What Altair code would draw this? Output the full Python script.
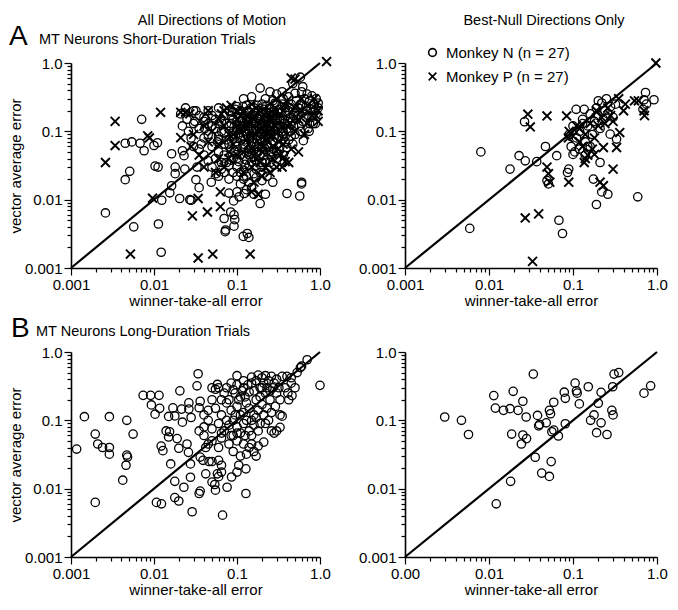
import altair as alt
import pandas as pd

FONT = "Liberation Sans"
N_LABEL = "Monkey N (n = 27)"
P_LABEL = "Monkey P (n = 27)"
XPATH = "M-1,-1L1,1M-1,1L1,-1"

# ---------------- Panel A, all directions (short-duration) ----------------
a_all_N = [
    (0.0026, 0.0064), (0.0057, 0.004), (0.0045, 0.0196), (0.0051, 0.026), (0.0045, 0.067),
    (0.0054, 0.07), (0.0071, 0.15), (0.0068, 0.067), (0.0076, 0.052), (0.010, 0.062),
    (0.011, 0.068), (0.0103, 0.031), (0.0112, 0.03), (0.0113, 0.0044), (0.0122, 0.0017),
    (0.0124, 0.0098), (0.0155, 0.0126), (0.0163, 0.016), (0.0163, 0.047), (0.018, 0.03),
    (0.018, 0.024), (0.0235, 0.028), (0.0204, 0.0104), (0.027, 0.01), (0.022, 0.052),
    (0.023, 0.044), (0.022, 0.12), (0.021, 0.18), (0.024, 0.22), (0.028, 0.0098),
    (0.032, 0.0196), (0.035, 0.015), (0.033, 0.03), (0.032, 0.2), (0.031, 0.14),
    (0.037, 0.065), (0.041, 0.11), (0.042, 0.15), (0.049, 0.018), (0.056, 0.024),
    (0.070, 0.0053), (0.073, 0.0036), (0.084, 0.0066), (0.092, 0.006), (0.094, 0.0051),
    (0.092, 0.0041), (0.072, 0.0034), (0.119, 0.0029), (0.133, 0.0032), (0.139, 0.0028),
    (0.091, 0.0096), (0.106, 0.011), (0.122, 0.0123), (0.19, 0.0088), (0.40, 0.0123),
    (0.6, 0.018), (0.6, 0.017), (0.57, 0.0113), (0.63, 0.073), (0.55, 0.17),
    (0.72, 0.11), (0.19, 0.43), (0.58, 0.62), (0.83, 0.13), (0.74, 0.1),
    # dense cluster
    (0.25, 0.38), (0.3, 0.35), (0.35, 0.38), (0.42, 0.32), (0.5, 0.36), (0.6, 0.38),
    (0.7, 0.35), (0.8, 0.33), (0.9, 0.3), (0.47, 0.5), (0.62, 0.45), (0.15, 0.32),
    (0.12, 0.3), (0.22, 0.3), (0.27, 0.28), (0.36, 0.3), (0.75, 0.28), (0.95, 0.26),
    (0.85, 0.25), (0.03, 0.2), (0.045, 0.2), (0.06, 0.22), (0.08, 0.2), (0.1, 0.23),
    (0.13, 0.24), (0.16, 0.22), (0.2, 0.25), (0.25, 0.22), (0.3, 0.24), (0.38, 0.22),
    (0.45, 0.25), (0.55, 0.22), (0.7, 0.2), (0.85, 0.2), (0.95, 0.22), (0.11, 0.2),
    (0.14, 0.19), (0.18, 0.2), (0.23, 0.19), (0.28, 0.2), (0.34, 0.19), (0.42, 0.2),
    (0.5, 0.19), (0.62, 0.19), (0.78, 0.21), (0.9, 0.18), (0.025, 0.15), (0.04, 0.16),
    (0.055, 0.15), (0.07, 0.17), (0.09, 0.15), (0.11, 0.16), (0.13, 0.15), (0.16, 0.17),
    (0.19, 0.15), (0.22, 0.16), (0.26, 0.15), (0.31, 0.16), (0.37, 0.15), (0.44, 0.16),
    (0.52, 0.15), (0.62, 0.14), (0.8, 0.16), (0.88, 0.13), (0.75, 0.13), (0.68, 0.16),
    (0.035, 0.11), (0.05, 0.12), (0.065, 0.1), (0.08, 0.12), (0.1, 0.11),
    (0.12, 0.12), (0.14, 0.1), (0.17, 0.12), (0.2, 0.11), (0.24, 0.12), (0.28, 0.1),
    (0.33, 0.12), (0.4, 0.11), (0.48, 0.12), (0.58, 0.1), (0.09, 0.1),
    (0.15, 0.13), (0.21, 0.13), (0.3, 0.13), (0.36, 0.1), (0.44, 0.1), (0.04, 0.08),
    (0.06, 0.085), (0.075, 0.075), (0.09, 0.085), (0.11, 0.08), (0.13, 0.09), (0.155, 0.078),
    (0.18, 0.085), (0.21, 0.08), (0.25, 0.09), (0.3, 0.08), (0.35, 0.085), (0.42, 0.075),
    (0.5, 0.09), (0.045, 0.09), (0.1, 0.07), (0.2, 0.07), (0.27, 0.072), (0.38, 0.07),
    (0.03, 0.06), (0.05, 0.06), (0.07, 0.065), (0.085, 0.055), (0.1, 0.06), (0.12, 0.065),
    (0.14, 0.055), (0.17, 0.06), (0.2, 0.058), (0.23, 0.065), (0.28, 0.055), (0.33, 0.06),
    (0.4, 0.058), (0.47, 0.065), (0.035, 0.055), (0.06, 0.05), (0.15, 0.05), (0.25, 0.05),
    (0.04, 0.045), (0.055, 0.04), (0.07, 0.045), (0.09, 0.04), (0.11, 0.045), (0.13, 0.038),
    (0.16, 0.042), (0.19, 0.045), (0.22, 0.038), (0.26, 0.042), (0.3, 0.04), (0.36, 0.045),
    (0.2, 0.035), (0.075, 0.035), (0.05, 0.03), (0.065, 0.028), (0.08, 0.032), (0.1, 0.03),
    (0.12, 0.027), (0.14, 0.032), (0.17, 0.028), (0.2, 0.03), (0.24, 0.027), (0.28, 0.032),
    (0.09, 0.025), (0.06, 0.022), (0.08, 0.02), (0.1, 0.022), (0.12, 0.02), (0.14, 0.018),
    (0.17, 0.021), (0.2, 0.019), (0.23, 0.022), (0.27, 0.018), (0.11, 0.017), (0.15, 0.015),
    (0.1, 0.013), (0.13, 0.014), (0.16, 0.012), (0.22, 0.012), (0.08, 0.0125),
    (0.085, 0.17), (0.095, 0.21), (0.105, 0.18), (0.115, 0.14), (0.125, 0.17), (0.135, 0.2),
    (0.145, 0.16), (0.155, 0.14), (0.165, 0.19), (0.175, 0.16), (0.185, 0.13), (0.195, 0.18),
    (0.21, 0.21), (0.23, 0.14), (0.245, 0.17), (0.26, 0.19), (0.29, 0.15), (0.32, 0.21),
    (0.34, 0.14), (0.4, 0.17), (0.46, 0.14), (0.53, 0.17), (0.085, 0.13), (0.095, 0.07),
    (0.105, 0.095), (0.115, 0.11), (0.125, 0.075), (0.135, 0.12), (0.145, 0.085), (0.165, 0.1),
    (0.175, 0.075), (0.185, 0.11), (0.195, 0.095), (0.215, 0.1), (0.225, 0.085), (0.235, 0.11),
    (0.26, 0.1), (0.29, 0.09), (0.31, 0.11), (0.34, 0.095), (0.38, 0.085), (0.45, 0.085),
    (0.055, 0.11), (0.065, 0.14), (0.075, 0.13), (0.045, 0.13), (0.06, 0.075), (0.07, 0.095),
    (0.08, 0.065), (0.095, 0.05), (0.115, 0.055), (0.13, 0.048), (0.16, 0.052), (0.18, 0.05),
    (0.21, 0.045), (0.24, 0.058), (0.3, 0.05), (0.065, 0.035), (0.085, 0.038), (0.105, 0.036),
    (0.125, 0.033), (0.15, 0.036), (0.17, 0.038), (0.25, 0.035), (0.11, 0.025), (0.13, 0.022),
    (0.16, 0.024), (0.19, 0.025), (0.07, 0.025), (0.045, 0.037), (0.058, 0.07), (0.028, 0.08),
    (0.026, 0.1), (0.03, 0.13), (0.04, 0.14), (0.035, 0.17), (0.05, 0.17), (0.06, 0.13),
    (0.088, 0.19), (0.098, 0.14), (0.108, 0.12), (0.118, 0.23), (0.128, 0.1), (0.138, 0.14),
    (0.148, 0.22), (0.158, 0.11), (0.168, 0.135), (0.178, 0.24), (0.188, 0.17), (0.198, 0.12),
    (0.208, 0.19), (0.218, 0.14), (0.228, 0.24), (0.238, 0.09), (0.248, 0.13), (0.268, 0.17),
    (0.278, 0.12), (0.288, 0.26), (0.31, 0.19), (0.33, 0.15), (0.35, 0.25), (0.37, 0.13),
    (0.39, 0.19), (0.41, 0.14), (0.43, 0.22), (0.48, 0.17), (0.52, 0.28), (0.56, 0.12),
    (0.58, 0.25), (0.65, 0.3), (0.68, 0.23), (0.72, 0.17), (0.1, 0.04), (0.14, 0.045),
    (0.18, 0.06), (0.22, 0.055), (0.26, 0.065), (0.32, 0.085), (0.12, 0.085), (0.16, 0.07),
    (0.2, 0.09), (0.24, 0.08),
]
a_all_P = [
    (1.2, 1.05), (0.0034, 0.14), (0.0026, 0.035), (0.0034, 0.062), (0.0084, 0.086),
    (0.0088, 0.08), (0.012, 0.19), (0.0096, 0.0105), (0.0052, 0.0016), (0.034, 0.0014),
    (0.051, 0.0016), (0.144, 0.0016), (0.029, 0.0058), (0.044, 0.0066), (0.034, 0.0104),
    (0.063, 0.0079), (0.063, 0.013), (0.021, 0.081), (0.021, 0.19), (0.024, 0.19),
    (0.027, 0.18), (0.07, 0.2), (0.075, 0.22), (0.15, 0.013), (0.18, 0.012),
    (0.37, 0.042), (0.38, 0.036), (0.45, 0.6), (0.5, 0.58), (0.9, 0.17), (0.95, 0.14),
    # cluster
    (0.045, 0.2), (0.065, 0.18), (0.085, 0.24), (0.12, 0.2), (0.15, 0.25), (0.3, 0.3),
    (0.4, 0.28), (0.85, 0.3), (0.9, 0.25), (0.95, 0.2), (0.8, 0.17), (0.05, 0.1),
    (0.07, 0.12), (0.09, 0.09), (0.13, 0.11), (0.18, 0.1), (0.25, 0.14), (0.35, 0.12),
    (0.5, 0.1), (0.06, 0.065), (0.08, 0.05), (0.1, 0.045), (0.14, 0.065), (0.2, 0.05),
    (0.27, 0.06), (0.33, 0.045), (0.42, 0.035), (0.3, 0.03), (0.25, 0.025), (0.2, 0.022),
    (0.16, 0.018), (0.12, 0.025), (0.07, 0.03), (0.06, 0.04), (0.055, 0.025), (0.04, 0.03),
    (0.035, 0.045), (0.028, 0.06), (0.1, 0.15), (0.2, 0.16), (0.28, 0.18), (0.6, 0.3),
    (0.7, 0.24), (0.65, 0.09), (0.55, 0.05), (0.45, 0.055), (0.15, 0.03),
    (0.1, 0.2), (0.13, 0.17), (0.16, 0.15), (0.22, 0.13), (0.26, 0.11), (0.11, 0.1),
    (0.15, 0.085), (0.19, 0.065), (0.23, 0.075), (0.09, 0.065), (0.12, 0.05), (0.17, 0.04),
    (0.22, 0.03), (0.08, 0.04), (0.04, 0.12), (0.03, 0.09), (0.06, 0.15), (0.045, 0.07),
    (0.32, 0.07), (0.4, 0.12), (0.55, 0.15), (0.7, 0.13), (0.6, 0.2), (0.27, 0.04),
    (0.35, 0.03),
    (0.11, 0.17), (0.14, 0.13), (0.17, 0.22), (0.21, 0.1), (0.24, 0.18), (0.29, 0.12),
    (0.33, 0.18), (0.37, 0.24), (0.44, 0.13), (0.5, 0.22), (0.13, 0.075), (0.17, 0.09),
    (0.21, 0.06), (0.25, 0.085), (0.31, 0.055), (0.36, 0.065), (0.1, 0.12), (0.08, 0.09),
    (0.19, 0.035), (0.15, 0.055),
]

# ---------------- Panel A, best-null directions (short-duration) ----------------
a_bn_N = [
    (0.0059, 0.0038), (0.008, 0.05), (0.0178, 0.028), (0.0228, 0.044), (0.027, 0.037),
    (0.037, 0.036), (0.0265, 0.138), (0.047, 0.06), (0.049, 0.019), (0.051, 0.017),
    (0.064, 0.044), (0.068, 0.005), (0.075, 0.0032), (0.086, 0.025), (0.089, 0.028),
    (0.1, 0.046), (0.109, 0.21), (0.136, 0.21), (0.175, 0.02), (0.19, 0.0085),
    (0.21, 0.035), (0.22, 0.013), (0.26, 0.012), (0.277, 0.091), (0.33, 0.077),
    (0.59, 0.011), (0.73, 0.37), (0.70, 0.29), (0.92, 0.29), (0.68, 0.21), (0.75, 0.25),
    (0.1, 0.12), (0.11, 0.08), (0.12, 0.1), (0.13, 0.15), (0.14, 0.07), (0.15, 0.12),
    (0.16, 0.18), (0.17, 0.09), (0.18, 0.14), (0.19, 0.22), (0.2, 0.17), (0.21, 0.11),
    (0.22, 0.26), (0.23, 0.15), (0.24, 0.2), (0.25, 0.3), (0.26, 0.18), (0.28, 0.23),
    (0.3, 0.16), (0.32, 0.25), (0.12, 0.055), (0.14, 0.045), (0.16, 0.06), (0.095, 0.06),
    (0.13, 0.13), (0.09, 0.09), (0.105, 0.05), (0.2, 0.28), (0.15, 0.06),
]
a_bn_P = [
    (0.029, 0.178), (0.031, 0.116), (0.049, 0.168), (0.084, 0.168), (0.049, 0.03),
    (0.051, 0.024), (0.053, 0.018), (0.089, 0.018), (0.027, 0.0054), (0.039, 0.0062),
    (0.033, 0.00125), (0.21, 0.018), (0.23, 0.016), (0.3, 0.028), (0.33, 0.058),
    (0.23, 0.058), (0.36, 0.096), (0.97, 1.0), (0.71, 0.17), (0.54, 0.28),
    (0.088, 0.08), (0.136, 0.035), (0.18, 0.046),
    (0.09, 0.1), (0.1, 0.085), (0.11, 0.12), (0.12, 0.07), (0.13, 0.06), (0.14, 0.09),
    (0.15, 0.045), (0.16, 0.13), (0.17, 0.055), (0.18, 0.08), (0.19, 0.2), (0.2, 0.12),
    (0.22, 0.16), (0.24, 0.13), (0.26, 0.22), (0.28, 0.17), (0.3, 0.14), (0.35, 0.3),
    (0.4, 0.2), (0.42, 0.25), (0.14, 0.04), (0.12, 0.11), (0.6, 0.28), (0.7, 0.2),
]

# ---------------- Panel B, all directions (long-duration) ----------------
b_all_N = [
    (0.00117, 0.038), (0.00145, 0.113), (0.00196, 0.063), (0.0021, 0.045), (0.0024, 0.04),
    (0.00196, 0.0063), (0.0029, 0.04), (0.0029, 0.032), (0.0029, 0.113), (0.0047, 0.1),
    (0.0047, 0.031), (0.0048, 0.029), (0.0046, 0.022), (0.0042, 0.0133), (0.0056, 0.063),
    (0.0074, 0.232), (0.0091, 0.232), (0.0115, 0.232), (0.0093, 0.168), (0.0117, 0.15),
    (0.0103, 0.123), (0.0107, 0.0063), (0.0123, 0.006), (0.0122, 0.042), (0.0128, 0.036),
    (0.014, 0.07), (0.0154, 0.068), (0.015, 0.057), (0.015, 0.114), (0.0169, 0.152),
    (0.0178, 0.116), (0.019, 0.054), (0.0159, 0.023), (0.0178, 0.0128), (0.0178, 0.0074),
    (0.0199, 0.0066), (0.0205, 0.27), (0.0215, 0.146), (0.022, 0.094), (0.0199, 0.039),
    (0.0229, 0.0105), (0.025, 0.045), (0.026, 0.034), (0.0263, 0.18), (0.0263, 0.146),
    (0.028, 0.11), (0.0275, 0.023), (0.0275, 0.0147), (0.0288, 0.0046), (0.034, 0.48),
    (0.033, 0.32), (0.035, 0.153), (0.036, 0.19), (0.036, 0.029), (0.039, 0.026),
    (0.035, 0.0085), (0.036, 0.0092), (0.042, 0.0165), (0.042, 0.04), (0.046, 0.025),
    (0.05, 0.025), (0.05, 0.0125), (0.054, 0.0115), (0.055, 0.0095), (0.058, 0.0165),
    (0.06, 0.015), (0.06, 0.026), (0.065, 0.022), (0.065, 0.0175), (0.067, 0.0041),
    (0.076, 0.0105), (0.086, 0.0148), (0.1, 0.0175), (0.105, 0.022), (0.128, 0.0195),
    (0.128, 0.0085), (0.058, 0.335), (0.055, 0.285),
    (0.06, 0.3), (0.07, 0.25), (0.08, 0.2), (0.09, 0.28), (0.1, 0.33), (0.11, 0.22),
    (0.12, 0.3), (0.13, 0.18), (0.14, 0.26), (0.15, 0.35), (0.17, 0.2), (0.19, 0.3),
    (0.2, 0.42), (0.22, 0.25), (0.24, 0.38), (0.27, 0.3), (0.3, 0.25), (0.33, 0.2),
    (0.38, 0.3), (0.05, 0.2), (0.055, 0.15), (0.065, 0.12), (0.075, 0.1), (0.085, 0.14),
    (0.095, 0.12), (0.1, 0.16), (0.12, 0.13), (0.14, 0.15), (0.16, 0.12), (0.18, 0.14),
    (0.2, 0.17), (0.23, 0.15), (0.26, 0.13), (0.29, 0.16), (0.04, 0.08), (0.045, 0.1),
    (0.05, 0.075), (0.06, 0.09), (0.07, 0.07), (0.08, 0.085), (0.09, 0.06), (0.1, 0.08),
    (0.11, 0.065), (0.12, 0.09), (0.14, 0.07), (0.16, 0.085), (0.18, 0.07), (0.22, 0.09),
    (0.26, 0.07), (0.28, 0.065), (0.04, 0.06), (0.05, 0.05), (0.065, 0.055), (0.08, 0.045),
    (0.1, 0.05), (0.12, 0.045), (0.14, 0.04), (0.16, 0.035), (0.18, 0.042), (0.09, 0.035),
    (0.11, 0.03), (0.13, 0.032), (0.17, 0.03), (0.06, 0.04), (0.035, 0.07), (0.04, 0.12),
    (0.045, 0.14), (0.05, 0.3), (0.075, 0.18), (0.1, 0.45), (0.12, 0.38), (0.15, 0.43),
    (0.18, 0.46), (0.22, 0.45), (0.26, 0.44), (0.3, 0.4), (0.35, 0.44), (0.4, 0.44),
    (0.45, 0.42), (0.53, 0.5), (0.58, 0.59), (0.6, 0.62), (0.7, 0.77), (0.41, 0.25),
    (0.42, 0.2), (0.46, 0.23), (0.3, 0.07), (0.33, 0.079), (0.33, 0.12), (0.35, 0.115),
    (1.0, 0.325), (0.15, 0.045), (0.21, 0.048), (0.2, 0.3), (0.25, 0.2), (0.5, 0.3),
    (0.45, 0.35),
    (0.065, 0.2), (0.075, 0.3), (0.085, 0.35), (0.095, 0.25), (0.105, 0.2), (0.115, 0.27),
    (0.125, 0.22), (0.135, 0.33), (0.16, 0.27), (0.17, 0.38), (0.19, 0.22), (0.21, 0.35),
    (0.23, 0.3), (0.25, 0.27), (0.28, 0.35), (0.32, 0.3), (0.09, 0.1), (0.11, 0.12),
    (0.13, 0.1), (0.15, 0.1), (0.17, 0.11), (0.19, 0.09), (0.21, 0.12), (0.24, 0.1),
    (0.065, 0.065), (0.085, 0.06), (0.1, 0.065), (0.125, 0.06), (0.15, 0.06), (0.045, 0.045),
]
b_all_P = []

# ---------------- Panel B, best-null directions (long-duration) ----------------
b_bn_N = [
    (0.00297, 0.112), (0.0047, 0.1), (0.0057, 0.062), (0.0114, 0.23), (0.0119, 0.151),
    (0.0149, 0.14), (0.0178, 0.148), (0.0194, 0.266), (0.0222, 0.14), (0.0186, 0.063),
    (0.0181, 0.0128), (0.0122, 0.006), (0.0253, 0.19), (0.0253, 0.061), (0.0243, 0.045),
    (0.028, 0.054), (0.0277, 0.112), (0.0337, 0.475), (0.0355, 0.0288), (0.0378, 0.118),
    (0.039, 0.083), (0.040, 0.087), (0.0424, 0.0169), (0.048, 0.092), (0.0524, 0.0151),
    (0.0524, 0.14), (0.054, 0.125), (0.055, 0.0249), (0.056, 0.068), (0.059, 0.184),
    (0.059, 0.072), (0.067, 0.059), (0.0787, 0.258), (0.081, 0.21), (0.081, 0.089),
    (0.106, 0.35), (0.112, 0.25), (0.11, 0.27), (0.119, 0.174), (0.152, 0.31),
    (0.162, 0.1), (0.178, 0.12), (0.191, 0.066), (0.2, 0.178), (0.216, 0.257),
    (0.216, 0.092), (0.254, 0.062), (0.297, 0.31), (0.29, 0.14), (0.3, 0.12),
    (0.308, 0.475), (0.35, 0.5), (0.70, 0.25), (0.84, 0.32),
]
b_bn_P = []

diag_vals = [0.001, 1.0]

# ---------------- axis helpers ----------------
decades = [0.001, 0.01, 0.1, 1.0]
minors = [k * 10.0 ** e for e in (-3, -2, -1) for k in range(2, 10)]
tick_values = sorted(decades + minors)
DEC_TEST = "abs(log(datum.value)/LN10 - round(log(datum.value)/LN10)) < 0.001"


def label_expr(first):
    return ("abs(datum.value-1)<1e-6 ? '1.0' : abs(datum.value-0.1)<1e-7 ? '0.1' : "
            "abs(datum.value-0.01)<1e-8 ? '0.01' : abs(datum.value-0.001)<1e-9 ? '"
            + first + "' : ''")


def make_axis(title, first):
    return alt.Axis(values=tick_values, labelExpr=label_expr(first), grid=False,
                    labelOverlap=False, labelFlush=False, title=title,
                    tickSize={"condition": {"test": DEC_TEST, "value": 7}, "value": 4})


PH = 205


def panel(n_pts, p_pts, width, ytitle, legend, xfirst, texts):
    xs = alt.Scale(type="log", domain=[0.001, 1.0], nice=False)
    ys = alt.Scale(type="log", domain=[0.001, 1.0], nice=False)
    xenc = alt.X("wta:Q", scale=xs, axis=make_axis("winner-take-all error", xfirst))
    yenc = alt.Y("va:Q", scale=ys, axis=make_axis(ytitle, "0.001"))
    shape_scale = alt.Scale(domain=[N_LABEL, P_LABEL], range=["circle", XPATH])

    diag = alt.Chart(pd.DataFrame({"wta": diag_vals, "va": diag_vals})).mark_line(
        color="black", strokeWidth=2.2).encode(x=xenc, y=yenc)
    layers = [diag]
    dn = pd.DataFrame({"wta": [p[0] for p in n_pts], "va": [p[1] for p in n_pts],
                       "monkey": [N_LABEL] * len(n_pts)})
    layers.append(alt.Chart(dn).mark_point(filled=False, color="black", opacity=1,
                                           size=70, strokeWidth=1.3).encode(
        x="wta:Q", y="va:Q",
        shape=alt.Shape("monkey:N", scale=shape_scale, legend=legend)))
    if p_pts:
        dp = pd.DataFrame({"wta": [p[0] for p in p_pts], "va": [p[1] for p in p_pts],
                           "monkey": [P_LABEL] * len(p_pts)})
        layers.append(alt.Chart(dp).mark_point(filled=False, color="black", opacity=1,
                                               size=80, strokeWidth=1.9).encode(
            x="wta:Q", y="va:Q",
            shape=alt.Shape("monkey:N", scale=shape_scale, legend=legend)))
    for (t, tx, ty, fs, al) in texts:
        layers.append(alt.Chart(pd.DataFrame({"k": [0]})).mark_text(
            text=t, font=FONT, fontSize=fs, align=al, baseline="alphabetic",
            color="black").encode(x=alt.value(tx), y=alt.value(ty)))
    return alt.layer(*layers).properties(width=width, height=PH)


legend_A = alt.Legend(title=None, orient="none", legendX=20, legendY=-18,
                      labelFont=FONT, labelFontSize=15, labelColor="black",
                      symbolSize=60, symbolStrokeWidth=1.6, symbolStrokeColor="black",
                      rowPadding=8, padding=0, labelOffset=6)

pA1 = panel(a_all_N, a_all_P, 249, "vector average error", None, "0.001",
            [("All Directions of Motion", 141, -38, 14.5, "center"),
             ("A", -62, -18, 28, "left"),
             ("MT Neurons Short-Duration Trials", -32, -19, 14.5, "left")])
pA2 = panel(a_bn_N, a_bn_P, 252, "", legend_A, "0.001",
            [("Best-Null Directions Only", 139, -38, 14.5, "center")])
pB1 = panel(b_all_N, b_all_P, 249, "vector average error", None, "0.001",
            [("B", -60, -15, 28, "left"),
             ("MT Neurons Long-Duration Trials", -35, -16, 14.5, "left")])
pB2 = panel(b_bn_N, b_bn_P, 252, "", None, "0.00", [])

chart = alt.concat(pA1, pA2, pB1, pB2, columns=2, bounds="flush",
                   spacing={"row": 84, "column": 85}).resolve_scale(
    shape="independent").properties(padding={"left": 0, "top": 5, "right": 0, "bottom": 0})

chart = chart.configure_axis(
    domainColor="black", domainWidth=1.6, tickColor="black", tickWidth=1.2,
    labelFont=FONT, labelFontSize=15, labelColor="black", labelPadding=2,
    titleFont=FONT, titleFontSize=15, titleFontWeight="normal", titleColor="black",
    titlePadding=1,
).configure_view(stroke=None)

chart.save("out.html", embed_options={"renderer": "svg", "actions": False})
